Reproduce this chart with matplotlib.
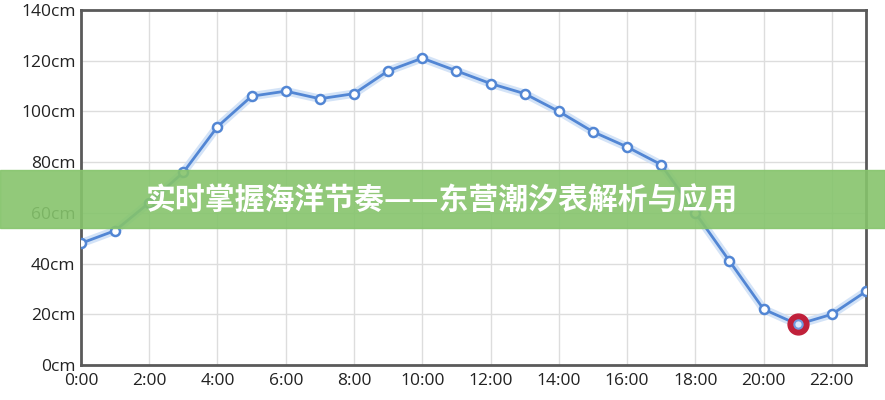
import matplotlib.pyplot as plt
import matplotlib.patheffects as pe
from matplotlib.patches import Rectangle

# hourly tide height, Dongying
hours = list(range(24))
tide_cm = [48, 53, 64, 76, 94, 106, 108, 105, 107, 116, 121, 116,
           111, 107, 100, 92, 86, 79, 60, 41, 22, 16, 20, 29]
low_hour = 21

x_ticks = list(range(0, 24, 2))
x_labels = [f"{h}:00" for h in x_ticks]
y_ticks = list(range(0, 141, 20))
y_labels = [f"{v}cm" for v in y_ticks]

title = "实时掌握海洋节奏——东营潮汐表解析与应用"

plt.rcParams['font.family'] = ['Open Sans', 'DejaVu Sans']

fig = plt.figure(figsize=(8.85, 4.0), dpi=100)
ax = fig.add_axes([0.0915, 0.0875, 0.887, 0.8875])

line_col = '#5286d4'
ax.plot(hours, tide_cm, color=line_col, lw=2, zorder=3,
        path_effects=[pe.Stroke(linewidth=6, foreground='#c9dcf5', alpha=0.8), pe.Normal()])
ax.plot(hours, tide_cm, ls='none', marker='o', ms=6.5, mfc='white',
        mec=line_col, mew=1.8, zorder=4)

# highlighted low tide point
ax.plot(low_hour, tide_cm[low_hour], marker='o', ms=15, mfc='#c0203a',
        mec='#c0203a', zorder=5)
ax.plot(low_hour, tide_cm[low_hour], marker='o', ms=6, mfc='#dce8fb',
        mec='#6f9be0', mew=1.5, zorder=6)

ax.set_xlim(0, 23)
ax.set_ylim(0, 140)
ax.set_xticks(x_ticks)
ax.set_xticklabels(x_labels)
ax.set_yticks(y_ticks)
ax.set_yticklabels(y_labels)
ax.tick_params(length=0, labelsize=12.5, colors='#222222')
ax.tick_params(axis='x', pad=6)
ax.tick_params(axis='y', pad=4)
ax.grid(True, color='#dddddd', lw=1)
ax.set_axisbelow(True)
for s in ax.spines.values():
    s.set_color('#5a5a5a')
    s.set_linewidth(2)

# green banner over the chart
fig.patches.append(Rectangle((0, 0.43), 1, 0.145, transform=fig.transFigure,
                             color='#86c46c', alpha=0.9, zorder=10))
fig.text(0.5, 0.5, title, ha='center', va='center', color='white',
         fontsize=21.5, fontweight='bold', zorder=11,
         family=['Noto Sans CJK SC', 'DejaVu Sans'])

fig.savefig('out.png', dpi=100)
